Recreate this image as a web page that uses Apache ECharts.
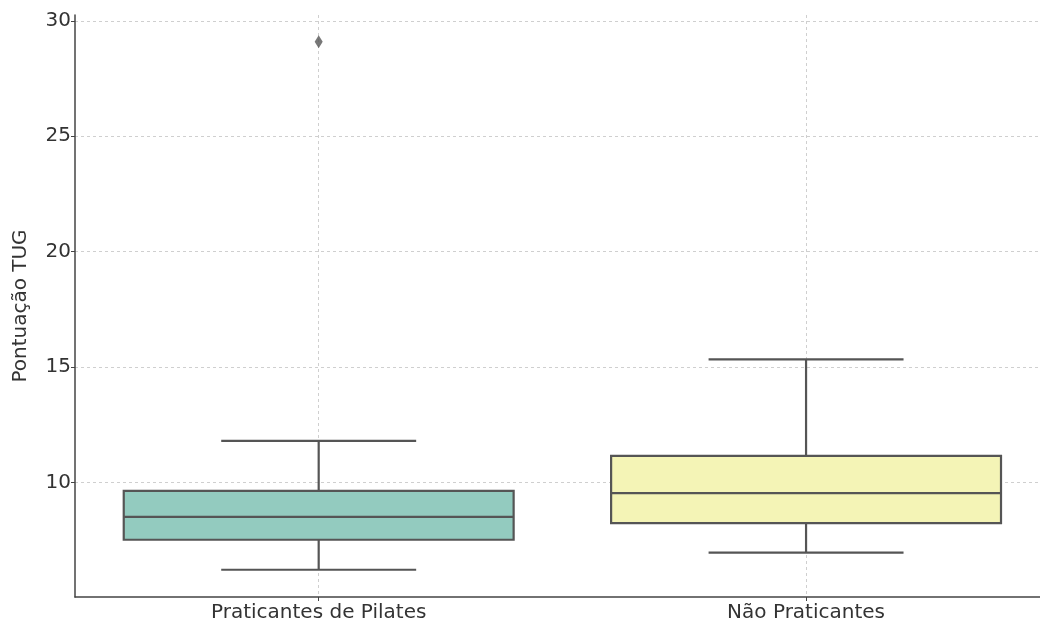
<!DOCTYPE html>
<html>
<head>
<meta charset="utf-8">
<script src="https://cdn.jsdelivr.net/npm/echarts@6/dist/echarts.min.js"></script>
<style>
html, body { margin: 0; padding: 0; background: #fff; }
#chart { width: 1040px; height: 622px; }
</style>
</head>
<body>
<div id="chart"></div>
<script>
// grupos e estatísticas: [min, Q1, mediana, Q3, max]
const categories = ['Praticantes de Pilates', 'Não Praticantes'];
const pilatesStats = [6.22, 7.52, 8.51, 9.64, 11.80];
const naoStats = [6.96, 8.24, 9.54, 11.15, 15.33];
const outliers = [[0, 29.09]];
const yTicks = [10, 15, 20, 25, 30];
const boxColors = ['#93cbbf', '#f4f4b6'];

const boxData = [pilatesStats, naoStats].map(function (s, i) {
    return [i].concat(s);
});

var myChart = echarts.init(document.getElementById('chart'));

function renderBox(params, api) {
    var i = api.value(0);
    var low = api.coord([i, api.value(1)]);
    var q1 = api.coord([i, api.value(2)]);
    var med = api.coord([i, api.value(3)]);
    var q3 = api.coord([i, api.value(4)]);
    var high = api.coord([i, api.value(5)]);
    var w = api.size([0.8, 0])[0];
    var cx = low[0];
    var lineStyle = { stroke: '#555555', lineWidth: 2.2 };
    return {
        type: 'group',
        children: [
            { type: 'line', shape: { x1: cx, y1: high[1], x2: cx, y2: q3[1] }, style: lineStyle },
            { type: 'line', shape: { x1: cx, y1: q1[1], x2: cx, y2: low[1] }, style: lineStyle },
            { type: 'line', shape: { x1: cx - w / 4, y1: high[1], x2: cx + w / 4, y2: high[1] }, style: lineStyle },
            { type: 'line', shape: { x1: cx - w / 4, y1: low[1], x2: cx + w / 4, y2: low[1] }, style: lineStyle },
            {
                type: 'rect',
                shape: { x: cx - w / 2, y: q3[1], width: w, height: q1[1] - q3[1] },
                style: { fill: boxColors[i], stroke: '#555555', lineWidth: 2.2 }
            },
            { type: 'line', shape: { x1: cx - w / 2, y1: med[1], x2: cx + w / 2, y2: med[1] }, style: lineStyle }
        ]
    };
}

var option = {
    animation: false,
    grid: {
        left: 75,
        right: 0,
        top: 15,
        bottom: 25,
        containLabel: false,
        outerBoundsMode: 'none'
    },
    xAxis: {
        type: 'value',
        min: -0.5,
        max: 1.48,
        axisLine: { show: true, onZero: false, lineStyle: { color: '#444', width: 1.5 } },
        axisTick: { show: true, length: 4, customValues: [0, 1], lineStyle: { color: '#444' } },
        axisLabel: {
            customValues: [0, 1],
            formatter: function (v) { return categories[Math.round(v)]; },
            color: '#333',
            fontSize: 20,
            fontFamily: 'DejaVu Sans',
            margin: 6
        },
        splitLine: { show: true, lineStyle: { color: '#cfcfcf', type: [3, 3], width: 1 } }
    },
    yAxis: {
        type: 'value',
        min: 5.04,
        max: 30.25,
        name: 'Pontuação TUG',
        nameLocation: 'middle',
        nameGap: 44,
        nameTextStyle: { color: '#333', fontSize: 20, fontFamily: 'DejaVu Sans' },
        axisLine: { show: true, onZero: false, lineStyle: { color: '#444', width: 1.5 } },
        axisTick: { show: true, length: 4, customValues: yTicks, lineStyle: { color: '#444' } },
        axisLabel: {
            customValues: yTicks,
            color: '#333',
            fontSize: 20,
            fontFamily: 'DejaVu Sans',
            margin: 4
        },
        splitLine: { show: true, lineStyle: { color: '#cfcfcf', type: [3, 3], width: 1 } }
    },
    series: [
        {
            type: 'custom',
            renderItem: renderBox,
            data: boxData,
            encode: { x: 0, y: [1, 2, 3, 4, 5] }
        },
        {
            type: 'scatter',
            symbol: 'diamond',
            symbolSize: [8, 13],
            itemStyle: { color: '#555555' },
            data: outliers
        }
    ]
};
myChart.setOption(option);
</script>
</body>
</html>
